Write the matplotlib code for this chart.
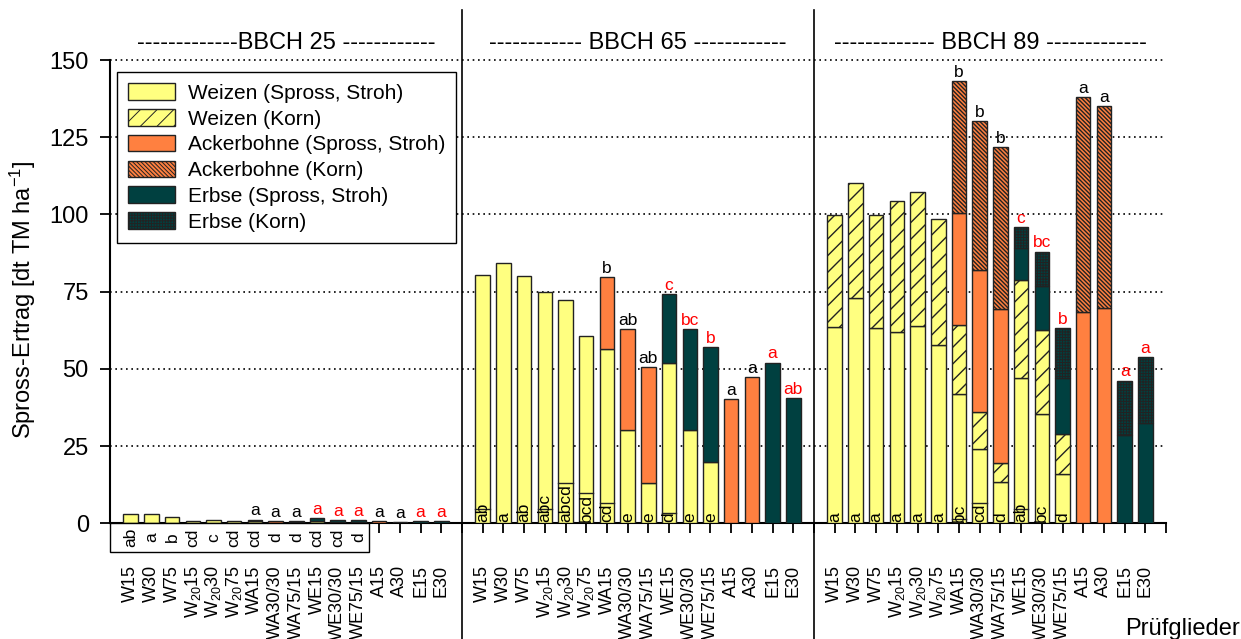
import numpy as np
import matplotlib.pyplot as plt
from matplotlib.patches import Patch, Rectangle
import matplotlib.transforms as mtransforms

plt.rcParams['font.family'] = ['Liberation Sans', 'DejaVu Sans']
plt.rcParams['mathtext.fontset'] = 'custom'
plt.rcParams['mathtext.rm'] = 'Liberation Sans'
plt.rcParams['mathtext.it'] = 'Liberation Sans:italic'
plt.rcParams['hatch.color'] = 'black'

# Pruefglieder (gleich fuer alle drei Termine)
glieder = ['W15', 'W30', 'W75', r'W$_{20}$15', r'W$_{20}$30', r'W$_{20}$75',
           'WA15', 'WA30/30', 'WA75/15', 'WE15', 'WE30/30', 'WE75/15',
           'A15', 'A30', 'E15', 'E30']
stadien = ['-------------BBCH 25 ------------',
           '------------ BBCH 65 ------------',
           '------------- BBCH 89 -------------']

# Ertraege [dt TM/ha], je Termin eine Liste (BBCH 25, 65, 89)
weizen_stroh = [
    [2.9, 3.1, 1.9, 0.6, 1.0, 0.6, 0.6, 0.2, 0.4, 0.7, 0.4, 0.4, 0, 0, 0, 0],
    [80.3, 84.4, 80.2, 74.9, 72.2, 60.6, 56.3, 30.2, 12.9, 51.8, 30.3, 19.7, 0, 0, 0, 0],
    [63.5, 72.9, 63.1, 61.8, 63.8, 57.6, 41.8, 24.0, 13.5, 47.0, 35.3, 16.1, 0, 0, 0, 0],
]
weizen_korn = [
    [0] * 16,
    [0] * 16,
    [36.3, 37.4, 36.7, 42.6, 43.6, 40.8, 22.4, 12.0, 5.9, 31.8, 27.3, 12.7, 0, 0, 0, 0],
]
bohne_stroh = [
    [0, 0, 0, 0, 0, 0, 0.6, 0.4, 0.4, 0, 0, 0, 0.7, 0.5, 0, 0],
    [0, 0, 0, 0, 0, 0, 23.5, 32.7, 37.7, 0, 0, 0, 40.1, 47.4, 0, 0],
    [0, 0, 0, 0, 0, 0, 36.4, 45.9, 50.0, 0, 0, 0, 68.3, 69.6, 0, 0],
]
bohne_korn = [
    [0] * 16,
    [0] * 16,
    [0, 0, 0, 0, 0, 0, 42.5, 48.3, 52.4, 0, 0, 0, 69.7, 65.4, 0, 0],
]
erbse_stroh = [
    [0, 0, 0, 0, 0, 0, 0, 0, 0, 1.0, 0.6, 0.6, 0, 0, 0.7, 0.7],
    [0, 0, 0, 0, 0, 0, 0, 0, 0, 22.5, 32.6, 37.3, 0, 0, 52.0, 40.6],
    [0, 0, 0, 0, 0, 0, 0, 0, 0, 10.3, 14.4, 18.2, 0, 0, 28.5, 32.4],
]
erbse_korn = [
    [0] * 16,
    [0] * 16,
    [0, 0, 0, 0, 0, 0, 0, 0, 0, 6.8, 11.0, 16.1, 0, 0, 17.7, 21.4],
]
# kleine Trennstriche im unteren Balkenbereich
striche = [
    [None] * 16,
    [4.7, None, None, 4.7, 13.0, 9.7, 6.5, None, None, 3.4, None, None, None, None, None, None],
    [None, None, None, None, None, None, 1.4, 6.5, None, 4.5, None, None, None, None, None, None],
]

# Signifikanzbuchstaben
buchst_unten = [
    ['ab', 'a', 'b', 'cd', 'c', 'cd', 'cd', 'd', 'd', 'cd', 'cd', 'd'],
    ['ab', 'a', 'ab', 'abc', 'abcd', 'bcd', 'cd', 'e', 'e', 'd', 'e', 'e'],
    ['a', 'a', 'a', 'a', 'a', 'a', 'bc', 'cd', 'd', 'ab', 'bc', 'd'],
]
buchst_oben = [
    ['a', 'a', 'a', 'a', 'a', 'a', 'a', 'a', 'a', 'a'],
    ['b', 'ab', 'ab', 'c', 'bc', 'b', 'a', 'a', 'a', 'ab'],
    ['b', 'b', 'b', 'c', 'bc', 'b', 'a', 'a', 'a', 'a'],
]
farbe_oben = ['black', 'black', 'black', 'red', 'red', 'red', 'black', 'black', 'red', 'red']

gelb = '#FFFF80'
orange = '#FF8040'
gruen = '#004040'
rand = '#222222'

# (Werte, Farbe, Schraffur, Schraffur-Linienbreite, Legende)
schichten = [
    (weizen_stroh, gelb, None, 1.0, 'Weizen (Spross, Stroh)'),
    (weizen_korn, gelb, '//', 1.0, 'Weizen (Korn)'),
    (bohne_stroh, orange, None, 1.0, 'Ackerbohne (Spross, Stroh)'),
    (bohne_korn, orange, '\\' * 8, 1.0, 'Ackerbohne (Korn)'),
    (erbse_stroh, gruen, None, 1.0, 'Erbse (Spross, Stroh)'),
    (erbse_korn, gruen, '+' * 6, 0.7, 'Erbse (Korn)'),
]

fig = plt.figure(figsize=(12.41, 6.39), dpi=100)
ax = fig.add_axes([0.0886, 0.181, 0.851, 0.7299])

breite = 0.7
n = len(glieder)
for g in range(3):
    x = np.arange(n) + 17 * g
    unten = np.zeros(n)
    for werte, farbe, schraff, hlw, _ in schichten:
        plt.rcParams['hatch.linewidth'] = hlw
        h = np.array(werte[g], dtype=float)
        m = h > 0
        ax.bar(x[m], h[m], bottom=unten[m], width=breite, color=farbe,
               edgecolor=rand, linewidth=1.0, hatch=schraff, zorder=3)
        unten += h
    # Trennstriche
    for i, s in enumerate(striche[g]):
        if s is not None:
            ax.plot([x[i] - breite / 2, x[i] + breite / 2], [s, s], color=rand, lw=1.0, zorder=4)
    # Buchstaben oben
    for k, (b, c) in enumerate(zip(buchst_oben[g], farbe_oben)):
        i = k + 6
        ax.text(x[i], unten[i] + 0.4, b, ha='center', va='bottom', fontsize=12.5,
                color=c, zorder=6)
    # Buchstaben unten
    for i, b in enumerate(buchst_unten[g]):
        if g == 0:
            ax.text(x[i], -4.6, b, rotation=90, ha='center', va='center', fontsize=12.5,
                    zorder=7, clip_on=False)
        else:
            ax.text(x[i], 0.4, b, rotation=90, ha='center', va='bottom', fontsize=12.5,
                    zorder=6)

# Kasten fuer die Buchstaben bei BBCH 25
ax.add_patch(Rectangle((-1, -9.2), 12.5, 9.2, facecolor='white', edgecolor='black',
                       linewidth=1.0, clip_on=False, zorder=5))

ax.set_xlim(-1, 50)
ax.set_ylim(0, 151)
ax.set_yticks([0, 25, 50, 75, 100, 125, 150])
pos = list(range(51))
lab = [glieder[p % 17] if (p % 17 < 16 and p < 50) else '' for p in pos]
ax.set_xticks(pos)
ax.set_xticklabels(lab, rotation=90, fontsize=13)
ax.tick_params(axis='x', length=7.2, width=1.3, pad=23)
ax.tick_params(axis='y', length=7.2, width=1.3, pad=8, labelsize=17)
ax.spines['top'].set_visible(False)
ax.spines['right'].set_visible(False)
ax.spines['left'].set_bounds(0, 150)
ax.spines['left'].set_linewidth(1.5)
ax.spines['bottom'].set_linewidth(1.5)
ax.yaxis.grid(True, color='black', linestyle=(0, (1, 2.2)), linewidth=1.2)
ax.set_axisbelow(True)

ax.set_ylabel('Spross-Ertrag [dt TM ha$^{-1}$]', fontsize=17)
ax.yaxis.set_label_coords(-0.068, 0.48)

# Trennlinien zwischen den Terminen
trans = mtransforms.blended_transform_factory(ax.transData, fig.transFigure)
for sx in [16, 33]:
    ax.plot([sx, sx], [0, 0.984], transform=trans, color='black', lw=1.2, clip_on=False, zorder=8)

for g, st in enumerate(stadien):
    fig.text(7.5 + 17 * g, 0.933, st, transform=trans, ha='center', va='center', fontsize=17)

fig.text(0.999, 0.0063, 'Prüfglieder', ha='right', va='baseline', fontsize=17)

griffe = []
for _, f, h, hlw, l in schichten:
    plt.rcParams['hatch.linewidth'] = hlw
    griffe.append(Patch(facecolor=f, edgecolor=rand, hatch=h, label=l))
leg = ax.legend(handles=griffe, loc='upper left', bbox_to_anchor=(0.0066, 0.968),
                borderaxespad=0, fontsize=15, handlelength=2.26, handleheight=0.85,
                handletextpad=0.58, labelspacing=0.3, borderpad=0.55,
                fancybox=False, framealpha=1, edgecolor='black')
leg.get_frame().set_linewidth(1.0)
leg.set_zorder(9)

fig.savefig('out.png', dpi=100)
